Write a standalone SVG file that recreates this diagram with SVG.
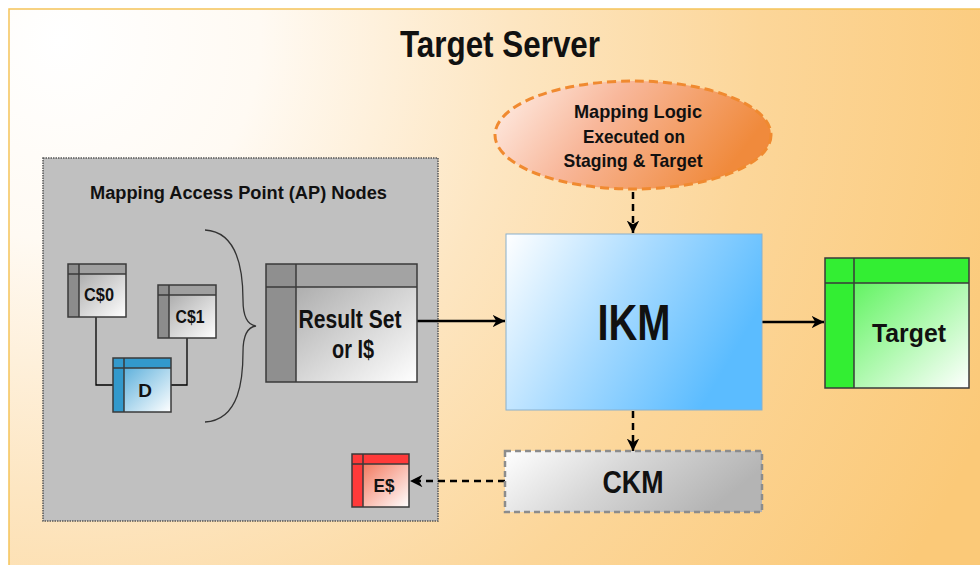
<svg xmlns="http://www.w3.org/2000/svg" width="980" height="565" viewBox="0 0 980 565">
<defs>
<radialGradient id="bg" gradientUnits="userSpaceOnUse" cx="60" cy="40" r="1000">
<stop offset="0" stop-color="#ffffff"/>
<stop offset="0.2" stop-color="#fffaf3"/>
<stop offset="0.45" stop-color="#fde6c2"/>
<stop offset="0.7" stop-color="#fcd699"/>
<stop offset="1" stop-color="#fbc978"/>
</radialGradient>
<linearGradient id="ell" x1="0" y1="0" x2="1" y2="0.3">
<stop offset="0" stop-color="#fff2ec"/>
<stop offset="0.45" stop-color="#f8b79a"/>
<stop offset="1" stop-color="#f08a3c"/>
</linearGradient>
<linearGradient id="ikm" x1="0" y1="0" x2="1" y2="0.4">
<stop offset="0" stop-color="#ffffff"/>
<stop offset="0.5" stop-color="#a9dbff"/>
<stop offset="1" stop-color="#5bbcff"/>
</linearGradient>
<linearGradient id="ckm" x1="0" y1="0" x2="1" y2="0.3">
<stop offset="0" stop-color="#ffffff"/>
<stop offset="0.5" stop-color="#d6d6d6"/>
<stop offset="1" stop-color="#b4b4b4"/>
</linearGradient>
<linearGradient id="gbody" x1="0" y1="0" x2="1" y2="1">
<stop offset="0" stop-color="#9a9a9a"/>
<stop offset="1" stop-color="#ffffff"/>
</linearGradient>
<linearGradient id="bbody" x1="0" y1="0" x2="1" y2="1">
<stop offset="0" stop-color="#3a9fd4"/>
<stop offset="1" stop-color="#ffffff"/>
</linearGradient>
<linearGradient id="rbody" x1="0" y1="0" x2="1" y2="1">
<stop offset="0" stop-color="#f05a3a"/>
<stop offset="1" stop-color="#ffffff"/>
</linearGradient>
<linearGradient id="tbody" x1="0" y1="0" x2="1" y2="1">
<stop offset="0" stop-color="#3cf03c"/>
<stop offset="1" stop-color="#ffffff"/>
</linearGradient>
<marker id="ah" viewBox="0 0 10 10" refX="10" refY="5" markerWidth="5" markerHeight="5" orient="auto" markerUnits="strokeWidth">
<path d="M0,0 L10,5 L0,10 L3,5 Z" fill="#000"/>
</marker>
</defs>
<style>
text{font-family:"Liberation Sans",Arial,sans-serif;font-weight:bold;fill:#111;}
.tb{stroke:#3a3a3a;stroke-width:1.5;}
.conn{fill:none;stroke:#000;}
</style>
<rect x="0" y="0" width="980" height="565" fill="#ffffff"/>
<rect x="9" y="9" width="980" height="570" fill="url(#bg)" stroke="#f5c45a" stroke-width="1.5"/>
<text x="500" y="57" font-size="36" text-anchor="middle" textLength="200" lengthAdjust="spacingAndGlyphs">Target Server</text>

<g id="ap-container">
<rect x="43" y="158" width="395" height="363" fill="#c0c0c0" stroke="#555" stroke-width="1.5" stroke-dasharray="1.5 1"/>
<text x="90" y="199" font-size="18" textLength="297" lengthAdjust="spacingAndGlyphs" fill="#1a1a2a">Mapping Access Point (AP) Nodes</text>
<path d="M205,230 C240,232 243,275 243,300 C243,318 248,325 256,326 C248,327 243,334 243,352 C243,378 240,420 205,422" fill="none" stroke="#333" stroke-width="1.3"/>
</g>

<g id="connectors">
<polyline class="conn" points="96,317 96,385 113,385" stroke-width="1.3"/>
<polyline class="conn" points="187,338 187,385 171,385" stroke-width="1.3"/>
<line class="conn" x1="417" y1="321" x2="505" y2="321" stroke-width="2.5" marker-end="url(#ah)"/>
<line class="conn" x1="762" y1="322" x2="824" y2="322" stroke-width="2.5" marker-end="url(#ah)"/>
<line class="conn" x1="633" y1="192" x2="633" y2="233" stroke-width="2.5" stroke-dasharray="7 5" marker-end="url(#ah)"/>
<line class="conn" x1="633" y1="411" x2="633" y2="451" stroke-width="2.5" stroke-dasharray="7 5" marker-end="url(#ah)"/>
<line class="conn" x1="505" y1="481" x2="410" y2="481" stroke-width="2.5" stroke-dasharray="7 5" marker-end="url(#ah)"/>
</g>

<g id="C0">
<rect x="68" y="264" width="58" height="53" fill="url(#gbody)"/>
<rect x="68" y="264" width="58" height="10" fill="#a0a0a0"/>
<rect x="68" y="264" width="11" height="53" fill="#8c8c8c"/>
<line class="tb" x1="68" y1="274" x2="126" y2="274"/>
<line class="tb" x1="79" y1="264" x2="79" y2="317"/>
<rect class="tb" x="68" y="264" width="58" height="53" fill="none"/>
<text x="99" y="301" font-size="19" text-anchor="middle" textLength="30" lengthAdjust="spacingAndGlyphs">C$0</text>
</g>

<g id="C1">
<rect x="158" y="285" width="58" height="53" fill="url(#gbody)"/>
<rect x="158" y="285" width="58" height="10" fill="#a0a0a0"/>
<rect x="158" y="285" width="11" height="53" fill="#8c8c8c"/>
<line class="tb" x1="158" y1="295" x2="216" y2="295"/>
<line class="tb" x1="169" y1="285" x2="169" y2="338"/>
<rect class="tb" x="158" y="285" width="58" height="53" fill="none"/>
<text x="190" y="323" font-size="19" text-anchor="middle" textLength="29" lengthAdjust="spacingAndGlyphs">C$1</text>
</g>

<g id="D">
<rect x="113" y="358" width="58" height="54" fill="url(#bbody)"/>
<rect x="113" y="358" width="58" height="10" fill="#3399cc"/>
<rect x="113" y="358" width="11" height="54" fill="#3399cc"/>
<line class="tb" x1="113" y1="368" x2="171" y2="368"/>
<line class="tb" x1="124" y1="358" x2="124" y2="412"/>
<rect class="tb" x="113" y="358" width="58" height="54" fill="none"/>
<text x="145" y="397" font-size="19" text-anchor="middle">D</text>
</g>

<g id="ResultSet">
<rect x="266" y="264" width="151" height="118" fill="url(#gbody)"/>
<rect x="266" y="264" width="151" height="23" fill="#a3a3a3"/>
<rect x="266" y="264" width="30" height="118" fill="#8f8f8f"/>
<line class="tb" x1="266" y1="287" x2="417" y2="287"/>
<line class="tb" x1="296" y1="264" x2="296" y2="382"/>
<rect class="tb" x="266" y="264" width="151" height="118" fill="none"/>
<text x="350" y="328" font-size="25" text-anchor="middle" textLength="103" lengthAdjust="spacingAndGlyphs">Result Set</text>
<text x="353" y="358" font-size="25" text-anchor="middle" textLength="42" lengthAdjust="spacingAndGlyphs">or I$</text>
</g>

<g id="Es">
<rect x="352" y="454" width="57" height="53" fill="url(#rbody)"/>
<rect x="352" y="454" width="57" height="10" fill="#ff3a3a"/>
<rect x="352" y="454" width="11" height="53" fill="#ff3a3a"/>
<line class="tb" x1="352" y1="464" x2="409" y2="464"/>
<line class="tb" x1="363" y1="454" x2="363" y2="507"/>
<rect class="tb" x="352" y="454" width="57" height="53" fill="none"/>
<text x="384" y="492" font-size="19" text-anchor="middle" textLength="21" lengthAdjust="spacingAndGlyphs">E$</text>
</g>

<g id="MappingLogic">
<ellipse cx="633" cy="135" rx="138" ry="54" fill="url(#ell)" stroke="#f08a30" stroke-width="3" stroke-dasharray="9 5"/>
<text x="638" y="118" font-size="19" text-anchor="middle" textLength="128" lengthAdjust="spacingAndGlyphs" fill="#1a1a2a">Mapping Logic</text>
<text x="634" y="143" font-size="19" text-anchor="middle" textLength="102" lengthAdjust="spacingAndGlyphs" fill="#1a1a2a">Executed on</text>
<text x="633" y="167" font-size="19" text-anchor="middle" textLength="139" lengthAdjust="spacingAndGlyphs" fill="#1a1a2a">Staging &amp; Target</text>
</g>

<g id="IKM">
<rect x="506" y="234" width="256" height="176" fill="url(#ikm)" stroke="#8ab0cc" stroke-width="1"/>
<text x="634" y="340" font-size="50" text-anchor="middle" textLength="73" lengthAdjust="spacingAndGlyphs">IKM</text>
</g>

<g id="CKM">
<rect x="505" y="451" width="257" height="61" fill="url(#ckm)" stroke="#8c8c8c" stroke-width="2.5" stroke-dasharray="6 4"/>
<text x="633" y="493" font-size="31" text-anchor="middle" textLength="61" lengthAdjust="spacingAndGlyphs">CKM</text>
</g>

<g id="Target">
<rect x="825" y="258" width="144" height="130" fill="url(#tbody)"/>
<rect x="825" y="258" width="144" height="25" fill="#33ee33"/>
<rect x="825" y="258" width="29" height="130" fill="#33ee33"/>
<line class="tb" x1="825" y1="283" x2="969" y2="283"/>
<line class="tb" x1="854" y1="258" x2="854" y2="388"/>
<rect class="tb" x="825" y="258" width="144" height="130" fill="none"/>
<text x="909" y="342" font-size="26" text-anchor="middle" textLength="74" lengthAdjust="spacingAndGlyphs">Target</text>
</g>
</svg>
